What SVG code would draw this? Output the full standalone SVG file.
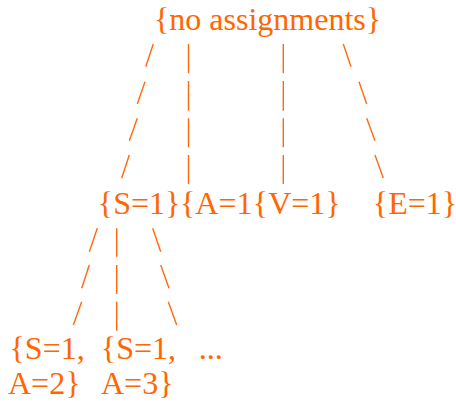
<svg xmlns="http://www.w3.org/2000/svg" width="456" height="406" viewBox="0 0 456 406">
<style>
text{font-family:"Liberation Serif","Times New Roman",serif;font-size:32px;fill:#ff6600}
.c path{fill:none;stroke:#ff6a10;stroke-width:1.4}
</style>
<rect width="456" height="406" fill="#ffffff"/>
<g class="c" id="connectors">
<path d="M153.3,44L145.7,66.7M145,81.7L137.3,104M137.3,118.3L129.3,140.7M129.3,155L121.7,178.3"/>
<path d="M188.5,44V73.3M188.5,81V110.7M188.5,118.3V147.3M188.5,155V184"/>
<path d="M283.3,44V73.3M283.3,81V110.7M283.3,118.3V147.3M283.3,155V184"/>
<path d="M343.3,44L351,66.7M359,81.7L366.7,104M366.7,118.3L375,140.7M375,155L383.3,178"/>
<path d="M97.3,228.3L89.3,251.7M89.3,265L81.7,288.3M81.7,301.7L73.3,325"/>
<path d="M116.7,228.3V256.7M116.7,265V294M116.7,301.7V330.7"/>
<path d="M152.7,228.3L160.7,251.7M160.7,265L169,288.3M168.3,301.7L176.7,325"/>
</g>
<g id="root"><text x="154" y="30">{no assignments}</text></g>
<g id="s1"><text x="97.8" y="214">{S=1}</text></g>
<g id="a1"><text x="180" y="214">{A=1</text></g>
<g id="v1"><text x="252.8" y="214">{V=1}</text></g>
<g id="e1"><text x="372.8" y="214">{E=1}</text></g>
<g id="s1a2"><text x="9.5" y="359">{S=1,</text><text x="8" y="393.5">A=2}</text></g>
<g id="s1a3"><text x="100.8" y="359">{S=1,</text><text x="101" y="393.5">A=3}</text></g>
<g id="more"><text x="198.8" y="359">...</text></g>
</svg>
